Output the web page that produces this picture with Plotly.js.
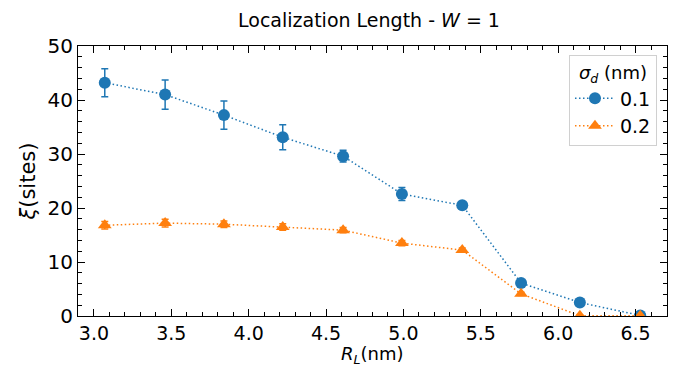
<!DOCTYPE html>
<html>
<head>
<meta charset="utf-8">
<script src="https://cdn.plot.ly/plotly-3.0.1.min.js"></script>
<style>html,body{margin:0;padding:0;background:#fff;}#chart{width:691px;height:368px;}</style>
</head>
<body>
<div id="chart"></div>
<script>
const RL = [3.07, 3.46, 3.84, 4.22, 4.61, 4.99, 5.38, 5.76, 6.14, 6.53];
const xi01 = [43.2, 41.0, 37.2, 33.1, 29.6, 22.6, 20.5, 6.1, 2.5, 0.1];
const err01 = [2.6, 2.7, 2.6, 2.3, 1.1, 1.2, 0.5, 0.4, 0.3, 0.2];
const xi02 = [16.8, 17.2, 17.0, 16.5, 15.9, 13.5, 12.2, 4.1, 0.05, 0.05];
const err02 = [0.7, 0.7, 0.6, 0.6, 0.5, 0.5, 0.4, 0.3, 0.1, 0.1];
const seriesNames = ['0.1', '0.2'];
const xTicks = [3.0, 3.5, 4.0, 4.5, 5.0, 5.5, 6.0, 6.5];
const yTicks = [0, 10, 20, 30, 40, 50];

const blue = '#1f77b4', orange = '#ff7f0e';
const font = 'DejaVu Sans, sans-serif';

const traces = [
  {
    x: RL, y: xi01, name: seriesNames[0], type: 'scatter', mode: 'lines+markers',
    line: {color: blue, width: 1.5, dash: '1.5px,2.5px'},
    marker: {color: blue, size: 12, symbol: 'circle'},
    error_y: {type: 'data', array: err01, visible: true, color: blue, thickness: 1.5, width: 3.5}
  },
  {
    x: RL, y: xi02, name: seriesNames[1], type: 'scatter', mode: 'lines+markers',
    line: {color: orange, width: 1.5, dash: '1.5px,2.5px'},
    marker: {color: orange, size: 12, symbol: 'triangle-up'},
    error_y: {type: 'data', array: err02, visible: true, color: orange, thickness: 1.5, width: 3.5}
  }
];

const axisCommon = {
  showgrid: false, zeroline: false, showline: true, linecolor: '#000', linewidth: 1,
  mirror: 'allticks', ticks: 'inside', ticklen: 7, tickwidth: 1, tickcolor: '#000',
  tickfont: {family: font, size: 20, color: '#000'}
};

const layout = {
  width: 691, height: 368,
  margin: {l: 78, r: 24, t: 46, b: 52},
  paper_bgcolor: '#fff', plot_bgcolor: '#fff',
  font: {family: font, color: '#000'},
  title: {text: 'Localization Length - <i>W</i> = 1', font: {family: font, size: 19, color: '#000'},
          x: 0.534, xanchor: 'center', y: 0.945, yanchor: 'middle'},
  xaxis: Object.assign({}, axisCommon, {
    range: [2.897, 6.703], tickvals: xTicks, ticktext: xTicks.map(v => v.toFixed(1)),
    tickfont: {family: font, size: 19, color: '#000'},
    minor: {dtick: 0.1, tick0: 3.0, ticks: 'inside', ticklen: 4, tickwidth: 1, tickcolor: '#000'}
  }),
  yaxis: Object.assign({}, axisCommon, {
    range: [0, 50], tickvals: yTicks,
    minor: {dtick: 2, tick0: 0, ticks: 'inside', ticklen: 4, tickwidth: 1, tickcolor: '#000'},
    title: {text: '<i>ξ</i>(sites)', font: {family: font, size: 21, color: '#000'}, standoff: 6}
  }),
  annotations: [{
    text: '<i>R</i><sub><i>L</i></sub>(nm)', xref: 'paper', yref: 'paper',
    x: 0.5, y: -0.1926, xanchor: 'center', yanchor: 'bottom', showarrow: false, borderpad: 0,
    font: {family: font, size: 18, color: '#000'}
  }],
  legend: {
    x: 0.983, y: 0.967, xanchor: 'right', yanchor: 'top',
    bgcolor: 'rgba(255,255,255,0.8)', bordercolor: '#d0d0d0', borderwidth: 1,
    font: {family: font, size: 19, color: '#000'},
    title: {text: '<i>σ</i><sub><i>d</i></sub> (nm)', font: {family: font, size: 18, color: '#000'}, side: 'top center'},
    itemwidth: 40, tracegroupgap: 2
  },
  showlegend: true
};

Plotly.newPlot('chart', traces, layout, {displayModeBar: false, staticPlot: true});
</script>
</body>
</html>
